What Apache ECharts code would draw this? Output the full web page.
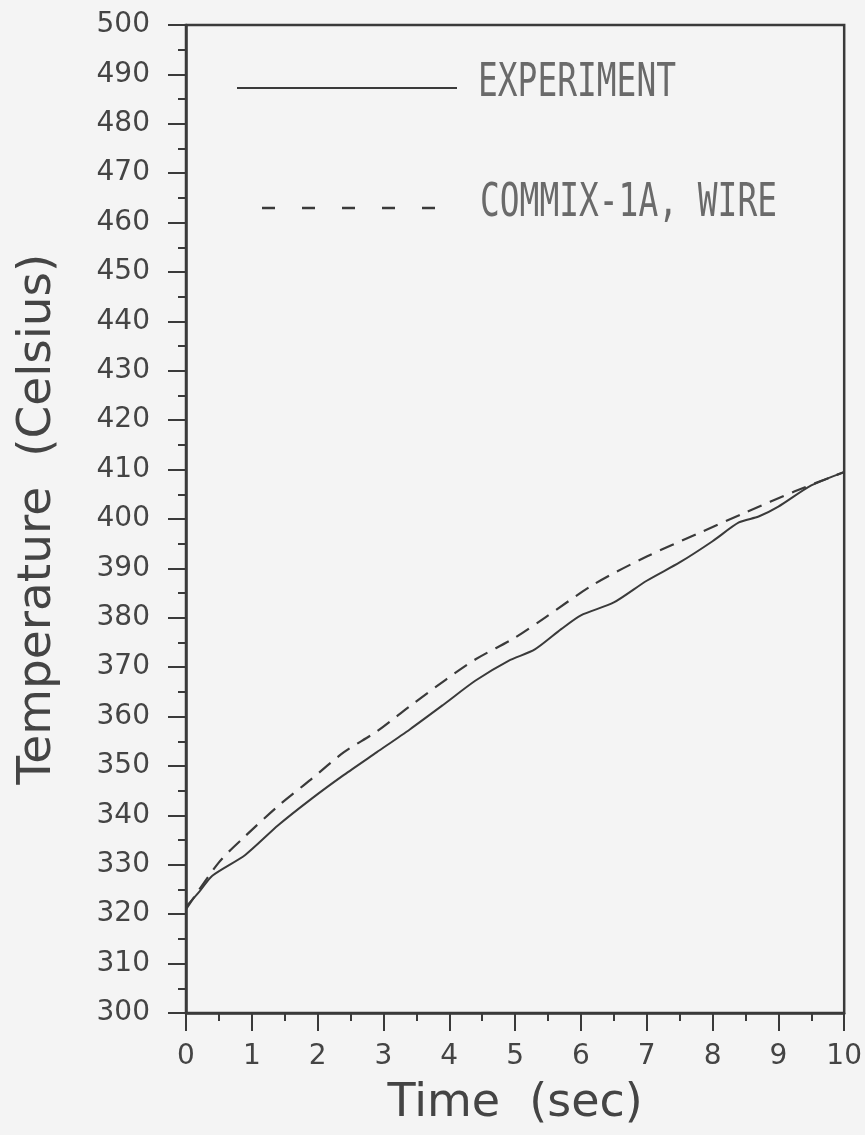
<!DOCTYPE html>
<html>
<head>
<meta charset="utf-8">
<script src="https://cdn.jsdelivr.net/npm/echarts@6/dist/echarts.min.js"></script>
<style>
  html, body { margin: 0; padding: 0; background: #f4f4f4; }
  #chart { width: 865px; height: 1135px; }
</style>
</head>
<body>
<div id="chart"></div>
<script>
// ---- data ----
const expTime = [0, 0.2, 0.4, 0.9, 1.4, 1.9, 2.4, 2.9, 3.4, 3.9, 4.4, 4.9, 5.3, 5.7, 6.0, 6.5, 7.0, 7.5, 8.0, 8.4, 8.7, 9.0, 9.5, 10];
const expTemp = [321.5, 324.5, 327.8, 332.0, 338.0, 343.3, 348.2, 352.8, 357.4, 362.3, 367.3, 371.3, 373.6, 377.7, 380.5, 383.1, 387.5, 391.2, 395.5, 399.3, 400.5, 402.5, 406.8, 409.5];

const modTime = [0, 0.5, 0.9, 1.4, 1.9, 2.4, 2.9, 3.4, 3.95, 4.4, 5.0, 5.45, 6.2, 7.0, 7.75, 8.5, 9.25, 10];
const modTemp = [321.0, 330.5, 335.8, 341.9, 347.3, 352.8, 357.0, 362.1, 367.5, 371.6, 376.0, 380.0, 386.8, 392.4, 396.9, 401.3, 405.6, 409.5];

const seriesNames = ['EXPERIMENT', 'COMMIX-1A, WIRE'];
const xTitle = 'Time  (sec)';
const yTitle = 'Temperature  (Celsius)';

const pairs = (xs, ys) => xs.map((x, i) => [x, ys[i]]);

const ink = '#3a3a3a';
const chart = echarts.init(document.getElementById('chart'), null, { renderer: 'canvas' });

chart.setOption({
  backgroundColor: '#f4f4f4',
  animation: false,
  grid: {
    left: 186, right: 14, top: 25, bottom: 122,
    show: true, borderColor: ink, borderWidth: 2.5, backgroundColor: 'transparent'
  },
  xAxis: {
    type: 'value', min: 0, max: 10, interval: 1,
    name: xTitle, nameLocation: 'middle', nameGap: 68,
    nameTextStyle: { fontFamily: 'DejaVu Sans', fontSize: 46, color: '#444' },
    axisLine: { show: true, onZero: false, lineStyle: { color: ink, width: 2.5 } },
    axisTick: { show: true, inside: false, length: 18, lineStyle: { color: ink, width: 2 } },
    minorTick: { show: true, splitNumber: 2, length: 8, lineStyle: { color: ink, width: 2 } },
    splitLine: { show: false },
    axisLabel: { fontFamily: 'DejaVu Sans', fontSize: 28, color: '#444', margin: 30 }
  },
  yAxis: {
    type: 'value', min: 300, max: 500, interval: 10,
    name: yTitle, nameLocation: 'middle', nameGap: 125, nameRotate: 90,
    nameTextStyle: { fontFamily: 'DejaVu Sans', fontSize: 47, color: '#444' },
    axisLine: { show: true, onZero: false, lineStyle: { color: ink, width: 2.5 } },
    axisTick: { show: true, inside: false, length: 18, lineStyle: { color: ink, width: 2 } },
    minorTick: { show: true, splitNumber: 2, length: 8, lineStyle: { color: ink, width: 2 } },
    splitLine: { show: false },
    axisLabel: { fontFamily: 'DejaVu Sans', fontSize: 28, color: '#444', margin: 36 }
  },
  series: [
    {
      name: seriesNames[0], type: 'line', data: pairs(expTime, expTemp),
      showSymbol: false, symbol: 'none', smooth: 0.25,
      lineStyle: { color: ink, width: 2, type: 'solid' }
    },
    {
      name: seriesNames[1], type: 'line', data: pairs(modTime, modTemp),
      showSymbol: false, symbol: 'none', smooth: 0.3,
      lineStyle: { color: ink, width: 2.2, type: [15, 9] }
    }
  ],
  graphic: [
    { type: 'line', shape: { x1: 237, y1: 88, x2: 457, y2: 88 },
      style: { stroke: ink, lineWidth: 2 }, silent: true },
    { type: 'line', shape: { x1: 262, y1: 208, x2: 450, y2: 208 },
      style: { stroke: ink, lineWidth: 2.5, lineDash: [13, 27] }, silent: true },
    { type: 'text', x: 478, y: 84, scaleX: 0.715,
      style: { text: seriesNames[0], fontFamily: 'DejaVu Sans Mono', fontSize: 46,
               fill: '#6a6a6a', textVerticalAlign: 'middle', textAlign: 'left' }, silent: true },
    { type: 'text', x: 480, y: 204, scaleX: 0.715,
      style: { text: seriesNames[1], fontFamily: 'DejaVu Sans Mono', fontSize: 46,
               fill: '#6a6a6a', textVerticalAlign: 'middle', textAlign: 'left' }, silent: true }
  ]
});
</script>
</body>
</html>
